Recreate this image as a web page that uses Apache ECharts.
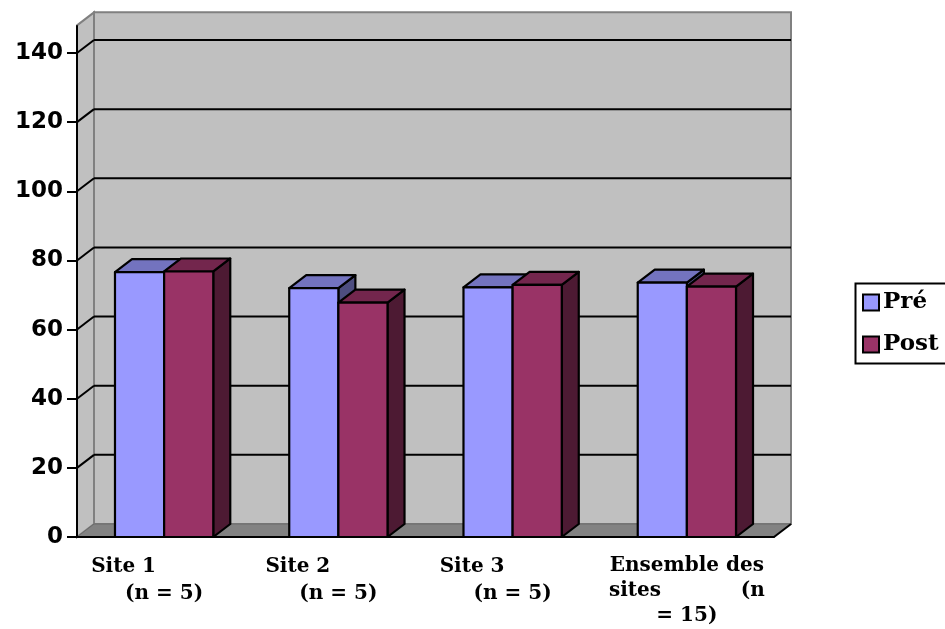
<!DOCTYPE html>
<html>
<head>
<meta charset="utf-8">
<script src="https://cdn.jsdelivr.net/npm/echarts@6/dist/echarts.min.js"></script>
<style>
  html, body { margin: 0; padding: 0; background: #fff; }
  #chart { width: 945px; height: 629px; }
</style>
</head>
<body>
<div id="chart"></div>
<script>
// data
var categories = ['Site 1 (n = 5)', 'Site 2 (n = 5)', 'Site 3 (n = 5)', 'Ensemble des sites (n = 15)'];
var preValues = [76.6, 72.0, 72.2, 73.6];
var postValues = [76.8, 67.8, 72.9, 72.4];
var yTicks = [0, 20, 40, 60, 80, 100, 120, 140];
var wallTop = 148;

// 3d look
var DX = 17, DY = -13;
var BAR_RATIO = 0.282;

function shade(c, k) {
  var n = parseInt(c.slice(1), 16);
  var r = Math.round(((n >> 16) & 255) * k), g = Math.round(((n >> 8) & 255) * k), b = Math.round((n & 255) * k);
  return 'rgb(' + r + ',' + g + ',' + b + ')';
}

function renderWalls(params, api) {
  var cs = params.coordSys;
  var x0 = cs.x, x1 = cs.x + cs.width, y0 = cs.y + cs.height;
  var yt = api.coord([0, wallTop])[1];
  var kids = [];
  // side wall
  kids.push({ type: 'polygon', shape: { points: [[x0, yt], [x0 + DX, yt + DY], [x0 + DX, y0 + DY], [x0, y0]] },
    style: { fill: '#c0c0c0', stroke: '#808080', lineWidth: 2 } });
  // back wall
  kids.push({ type: 'rect', shape: { x: x0 + DX, y: yt + DY, width: x1 - x0, height: y0 - yt },
    style: { fill: '#c0c0c0', stroke: '#808080', lineWidth: 2 } });
  // gridlines
  yTicks.forEach(function (v) {
    if (v === 0) return;
    var y = api.coord([0, v])[1];
    kids.push({ type: 'line', shape: { x1: x0 + DX, y1: y + DY, x2: x1 + DX, y2: y + DY }, style: { stroke: '#000', lineWidth: 2 } });
    kids.push({ type: 'line', shape: { x1: x0, y1: y, x2: x0 + DX, y2: y + DY }, style: { stroke: '#000', lineWidth: 2 } });
  });
  // floor
  kids.push({ type: 'polygon', shape: { points: [[x0, y0], [x1, y0], [x1 + DX, y0 + DY], [x0 + DX, y0 + DY]] },
    style: { fill: '#828282', stroke: '#6a6a6a', lineWidth: 1 } });
  kids.push({ type: 'line', shape: { x1: x1, y1: y0, x2: x1 + DX, y2: y0 + DY }, style: { stroke: '#000', lineWidth: 2 } });
  // front value axis line
  kids.push({ type: 'line', shape: { x1: x0, y1: yt, x2: x0, y2: y0 }, style: { stroke: '#000', lineWidth: 2 } });
  return { type: 'group', children: kids };
}

function barRenderer(color, side) {
  return function (params, api) {
    var i = api.value(0), v = api.value(1);
    var base = api.coord([i, 0]);
    var top = api.coord([i, v]);
    var w = api.size([1, 0])[0] * BAR_RATIO;
    var xl = side === 0 ? base[0] - w : base[0];
    var xr = xl + w;
    var yb = base[1], yt = top[1];
    var st = { stroke: '#000', lineWidth: 2.2, lineJoin: 'round' };
    return { type: 'group', children: [
      { type: 'polygon', shape: { points: [[xr, yb], [xr + DX, yb + DY], [xr + DX, yt + DY], [xr, yt]] },
        style: Object.assign({ fill: shade(color, 0.5) }, st) },
      { type: 'polygon', shape: { points: [[xl, yt], [xr, yt], [xr + DX, yt + DY], [xl + DX, yt + DY]] },
        style: Object.assign({ fill: shade(color, 0.75) }, st) },
      { type: 'rect', shape: { x: xl, y: yt, width: w, height: yb - yt },
        style: Object.assign({ fill: color }, st) }
    ] };
  };
}

var labelFont = { fontFamily: 'DejaVu Serif', fontWeight: 'bold', fontSize: 20, color: '#000' };
function rs(extra) { return Object.assign({}, labelFont, extra); }

var chart = echarts.init(document.getElementById('chart'));
chart.setOption({
  backgroundColor: '#fff',
  animation: false,
  grid: { left: 77, right: 171, top: 53, bottom: 92 },
  // legend frame runs past the right edge, as in the original
  graphic: [{
    type: 'rect', left: 853, top: 281, z: 100,
    shape: { width: 130, height: 80 },
    style: { fill: null, stroke: '#000', lineWidth: 2 }
  }],
  legend: {
    orient: 'vertical',
    left: 853, top: 281,
    padding: [10, 20, 9, 9],
    borderWidth: 0,
    itemWidth: 16, itemHeight: 16, itemGap: 19,
    icon: 'rect',
    itemStyle: { borderColor: '#000', borderWidth: 2 },
    textStyle: { fontFamily: 'DejaVu Serif', fontWeight: 'bold', fontSize: 23, color: '#000', lineHeight: 22, padding: [0, 0, 0, -1] },
    data: ['Pré', 'Post']
  },
  xAxis: {
    type: 'category',
    data: categories,
    z: 10,
    axisLine: { lineStyle: { color: '#000', width: 2 } },
    axisTick: { length: 9, lineStyle: { color: '#000', width: 2 } },
    axisLabel: {
      interval: 0, margin: 16, color: '#000',
      formatter: function (val) {
        if (val.indexOf('Ensemble') === 0) return '{c|Ensemble des}\n{s|sites}{n|(n}\n{d|= 15)}';
        var m = val.match(/^(Site \d) (.*)$/);
        return '{a|' + m[1] + '}\n{b|' + m[2] + '}';
      },
      rich: {
        a: rs({ lineHeight: 27, width: 146, align: 'left' }),
        b: rs({ lineHeight: 27 }),
        c: rs({ lineHeight: 25, width: 156, align: 'center' }),
        s: rs({ lineHeight: 25, align: 'left' }),
        n: rs({ lineHeight: 25, align: 'right' }),
        d: rs({ lineHeight: 25 })
      }
    }
  },
  yAxis: {
    type: 'value',
    min: 0, max: 140, interval: 20,
    z: 10,
    axisLine: { show: false },
    axisTick: { show: true, length: 10, lineStyle: { color: '#000', width: 2 } },
    splitLine: { show: false },
    axisLabel: { margin: 14, color: '#000', fontFamily: 'DejaVu Sans', fontWeight: 'bold', fontSize: 23 }
  },
  series: [
    { type: 'custom', name: 'walls', z: 1, silent: true, renderItem: renderWalls, data: [[0, 0]] },
    { type: 'custom', name: 'Pré', z: 2, itemStyle: { color: '#9999ff' },
      renderItem: barRenderer('#9999ff', 0), encode: { x: 0, y: 1 },
      data: preValues.map(function (v, i) { return [i, v]; }) },
    { type: 'custom', name: 'Post', z: 2, itemStyle: { color: '#993366' },
      renderItem: barRenderer('#993366', 1), encode: { x: 0, y: 1 },
      data: postValues.map(function (v, i) { return [i, v]; }) }
  ]
});
</script>
</body>
</html>
